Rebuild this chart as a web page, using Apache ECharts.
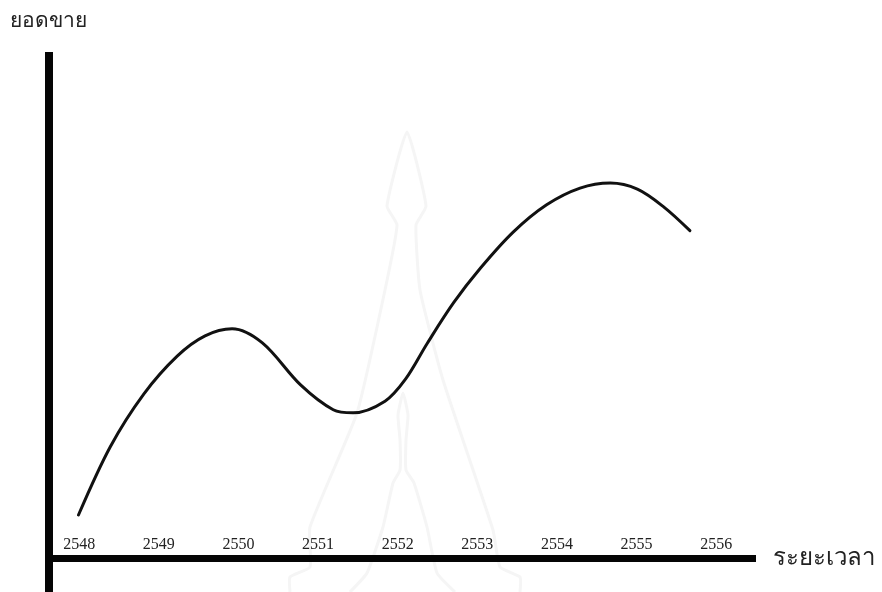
<!DOCTYPE html>
<html>
<head>
<meta charset="utf-8">
<style>
  html, body { margin: 0; padding: 0; background: #fff; }
  #main { width: 882px; height: 592px; }
</style>
<script src="https://cdn.jsdelivr.net/npm/echarts@6/dist/echarts.min.js"></script>
</head>
<body>
<div id="main"></div>
<script>
var tickYears = [2548, 2549, 2550, 2551, 2552, 2553, 2554, 2555, 2556];
var curveYears = [2547.99, 2548.39, 2548.81, 2549.23, 2549.58, 2549.92, 2550.3, 2550.78, 2551.19, 2551.44, 2551.84, 2552.1, 2552.37, 2552.7, 2553.04, 2553.45, 2553.87, 2554.29, 2554.67, 2555.01, 2555.34, 2555.67];
var salesValues = [8.5, 22, 32.4, 39.9, 43.9, 45.3, 42.5, 34.2, 29.3, 28.7, 31, 35.4, 42.4, 50.4, 57.3, 64.4, 69.8, 73.1, 74.1, 72.9, 69.4, 64.7];

var thaiFont = '"Noto Sans", "Liberation Serif", "DejaVu Sans", sans-serif';
var axisBlack = '#050505';

var chart = echarts.init(document.getElementById('main'), null, { renderer: 'canvas' });

// ลายน้ำจางๆ ด้านหลังกราฟ
function watermark(points) {
  return {
    type: 'polyline',
    silent: true,
    z: -1,
    shape: { points: points, smooth: 0.15 },
    style: { fill: null, stroke: '#f5f5f5', lineWidth: 3 }
  };
}

chart.setOption({
  animation: false,
  backgroundColor: '#ffffff',
  grid: { left: 49, right: 126, top: 52, bottom: 0, containLabel: false },
  graphic: [
    watermark([[290, 592], [290, 577], [310, 567], [310, 527], [357, 413], [385, 290], [397, 225], [387, 206], [407, 132], [426, 206], [416, 225], [420, 290], [443, 380], [493, 530], [500, 567], [520, 577], [520, 592]]),
    watermark([[350, 592], [367, 573], [383, 527], [393, 483], [400, 470], [400, 440], [398, 415], [403, 393], [408, 415], [406, 440], [406, 470], [414, 483], [427, 527], [437, 573], [455, 592]])
  ],
  xAxis: {
    type: 'value',
    min: 2547.62,
    max: 2556.5,
    splitLine: { show: false },
    axisLine: { show: true, onZero: true, lineStyle: { color: axisBlack, width: 7, cap: 'butt' } },
    axisTick: { show: false },
    axisLabel: {
      margin: -55,
      customValues: tickYears,
      formatter: function (v) { return String(v); },
      fontFamily: '"Liberation Serif", serif',
      fontSize: 16,
      color: '#222'
    },
    name: 'ระยะเวลา',
    nameLocation: 'end',
    nameGap: 17,
    nameTextStyle: { fontFamily: thaiFont, fontSize: 24, color: '#222', align: 'left', verticalAlign: 'middle', padding: [3, 0, 0, 0] }
  },
  yAxis: {
    type: 'value',
    min: -6.72,
    max: 100,
    splitLine: { show: false },
    axisLine: { show: true, lineStyle: { color: axisBlack, width: 8, cap: 'butt' } },
    axisTick: { show: false },
    axisLabel: { show: false },
    name: 'ยอดขาย',
    nameLocation: 'end',
    nameGap: 31,
    nameTextStyle: { fontFamily: thaiFont, fontSize: 21, color: '#222', align: 'left', verticalAlign: 'middle', padding: [0, 0, 0, -39] }
  },
  series: [{
    type: 'line',
    data: curveYears.map(function (y, i) { return [y, salesValues[i]]; }),
    smooth: 0.33,
    symbol: 'none',
    clip: false,
    lineStyle: { color: '#111', width: 3, cap: 'round' }
  }]
});
</script>
</body>
</html>
